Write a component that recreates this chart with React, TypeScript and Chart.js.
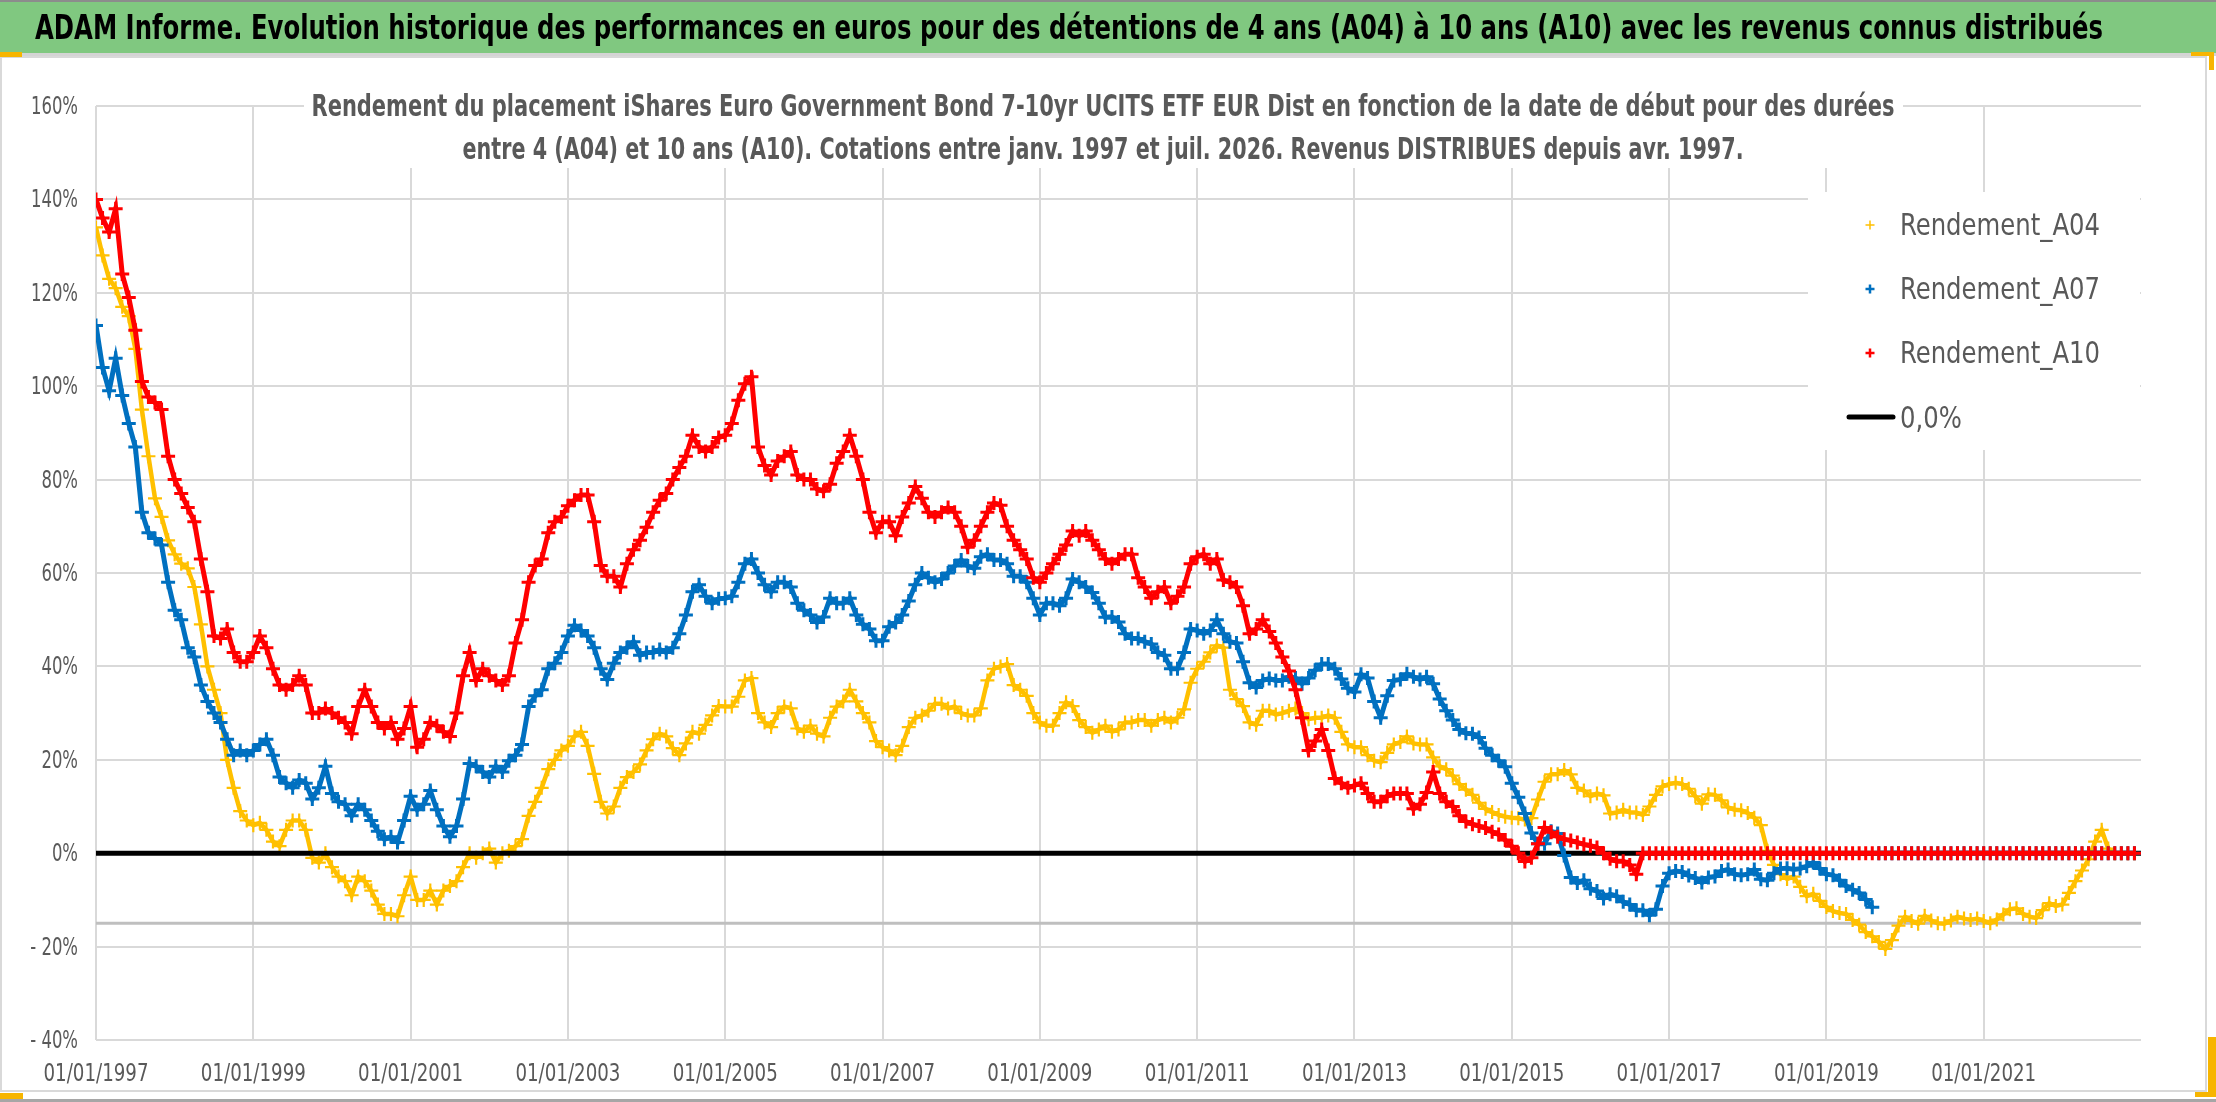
import React, { useEffect, useRef } from 'react';
import { Chart, registerables } from 'chart.js';

Chart.register(...registerables);

const HEADER = 'ADAM Informe. Evolution historique des performances en euros pour des détentions de 4 ans (A04) à 10 ans (A10) avec les revenus connus distribués';
const TITLE_LINES = [
  'Rendement du placement iShares Euro Government Bond 7-10yr UCITS ETF EUR Dist en fonction de la date de début pour des durées',
  'entre 4 (A04) et 10 ans (A10). Cotations entre janv. 1997 et juil. 2026. Revenus DISTRIBUES depuis avr. 1997.',
];

// monthly values, first point = janv. 1997
const START_YEAR = 1997;
const END_YEAR = 2023;
const YEAR_TICKS = [1997, 1999, 2001, 2003, 2005, 2007, 2009, 2011, 2013, 2015, 2017, 2019, 2021];
const PCT_TICKS = [-40, -20, 0, 20, 40, 60, 80, 100, 120, 140, 160];

const RENDEMENT_A04 = [
  134, 128, 123, 121, 117, 115, 108, 95, 85, 76, 72, 67,
  64, 62, 61, 57, 49, 40, 35, 30, 20, 14, 9, 7,
  6, 6.5, 5, 2.5, 1.5, 5, 7, 7, 5, -1, -2, 0,
  -3, -5, -6, -9, -5, -6, -8, -11, -13, -13, -13.5, -9,
  -5, -10, -10, -8, -11, -8, -7, -6, -3, 0, -1, 0,
  1, -2, 0, 0.5, 1.5, 3, 8, 11, 14, 18, 20, 22,
  23, 25, 26, 23, 17, 11, 8.5, 10, 14, 16.3, 17.4, 19,
  22, 24.4, 25.6, 25, 22.5, 21, 23.5, 26, 25.6, 27.5, 29.5, 31.5,
  31.4, 31.4, 33.5, 37, 37.5, 30, 28, 27, 30, 31.4, 31, 26.7,
  26, 27.3, 25.6, 25, 29, 31.4, 32.5, 35, 32.5, 30, 28, 24,
  22.7, 22, 21, 23, 27, 29, 29.5, 30.5, 32, 32, 31, 31.4,
  30, 29.5, 29.5, 31, 37, 39.5, 40, 40.5, 36, 35, 33.7, 30,
  28, 27.3, 27.3, 30, 32.3, 31.5, 28.5, 27, 25.8, 26.5, 27.3, 26,
  26.5, 28, 28, 28.5, 28.5, 27.3, 28.5, 29, 28, 29, 30.8, 36.5,
  39.5, 41, 43, 44.5, 44, 35, 33, 31.5, 28, 27.5, 30.5, 30.5,
  29.7, 30, 30.5, 31, 30, 28.7, 29, 29, 29.5, 29, 26, 23.3,
  22.7, 22.7, 21, 19.8, 19.5, 21.5, 23.3, 23.8, 25, 23.5, 23.3, 23.3,
  20.5, 18.6, 18, 16.6, 14.8, 13.6, 12.5, 10.8, 9.5, 8.8, 8.2, 7.8,
  7.6, 7.5, 7.2, 7.5, 11.5, 15.3, 16.9, 16.9, 17.8, 16.9, 14, 13.4,
  12.2, 12.8, 12.4, 8.5, 8.7, 9.3, 8.7, 8.7, 8.2, 10, 12.5, 14.3,
  14.8, 15.1, 14.8, 13.8, 12.2, 10.6, 12.6, 12.5, 11.3, 9.8, 9.3, 9.2,
  8.6, 7.6, 6, 0.5, -2.5, -4.5, -5.5, -5, -7.2, -9.2, -8.7, -10.2,
  -11.5, -12.4, -12.8, -13, -14.3, -15.3, -16.9, -17.8, -19, -20.5, -18.6, -15.5,
  -13.6, -14.5, -15.1, -13.4, -14.4, -15, -15.1, -14.4, -13.6, -14, -14.3, -14,
  -14.5, -15, -14.2, -13.1, -12, -11.8, -13, -13.6, -13.9, -12.2, -10.7, -11.3,
  -11, -8.5, -6, -3.7, -1.3, 2.5, 5, 1, 0, 0, 0, 0,
];

const RENDEMENT_A07 = [
  113, 104, 99, 106, 98, 92, 87, 73, 68.6, 67.4, 66, 58,
  52, 50, 44, 42, 36, 32.5, 30, 28, 24.4, 21, 22, 21,
  22, 23.3, 24.4, 21, 16.3, 15, 14, 15.7, 15, 11.6, 14, 18.6,
  12.8, 11, 10.5, 8, 10.5, 9.3, 7, 4.7, 3, 3.5, 2.3, 7,
  12.2, 9.3, 10.5, 13.4, 9.3, 5.8, 3.5, 5.8, 11.6, 19.2, 18.6, 17.4,
  16.3, 18.6, 17.4, 19.8, 21, 23.3, 31.4, 33.7, 35, 39.5, 40.7, 43,
  46.5, 48.8, 47.7, 46.5, 44, 39.5, 37.2, 40.7, 43, 44, 45.3, 42.4,
  43, 43, 43.6, 43, 44, 47, 51, 56, 57.5, 55, 53.5, 54.5,
  54.6, 55, 58, 62, 63, 60, 57.5, 56, 58, 58, 57, 53.5,
  52, 51, 49.4, 50.6, 54.6, 53.5, 53.5, 54.6, 51, 49, 48, 45.5,
  45.5, 48.5, 49.4, 51, 54, 57.5, 60, 59, 58, 58.7, 60, 61.5,
  62.8, 61.5, 61, 63.5, 64, 62.8, 62.8, 62, 59.3, 59.3, 58, 54.6,
  51, 53.5, 53.5, 53, 54.6, 58.7, 58, 57, 55.8, 53.5, 50.5, 50.6,
  49.5, 47, 46, 46, 45.3, 44.8, 43, 42.4, 39.5, 39.5, 43, 48,
  47.7, 47, 47.7, 50, 47, 45.3, 45, 41, 36.5, 35.5, 37, 37.4,
  37, 37, 37.8, 37.5, 36.3, 37.5, 39.2, 40.5, 40.5, 39.5, 37.3, 35.3,
  34.5, 38.3, 37.5, 32.5, 29, 33.7, 37, 37.2, 38.4, 37.8, 37.2, 37.8,
  36.3, 33, 30.5, 28.5, 26.5, 25.7, 25.6, 24.8, 22.5, 21, 19.8, 18.5,
  15, 12, 8.5, 4.3, 2, 2, 4.7, 4.2, -0.5, -5.2, -6.4, -5.8,
  -7.6, -8.1, -9.7, -8.8, -9.2, -10.4, -11, -12.2, -12.2, -13.3, -12, -7,
  -4.3, -3.8, -4, -4.8, -5.3, -6.3, -5.2, -5, -3.8, -3.5, -4.5, -4.7,
  -4.5, -3.5, -5.6, -5.8, -4.3, -3.3, -3.2, -3.5, -3.3, -2.8, -2, -3.3,
  -4.5, -4.7, -5.8, -7, -7.8, -8.5, -9.9, -11.6, 0, 0, 0, 0,
  0, 0, 0, 0, 0, 0, 0, 0, 0, 0, 0, 0,
  0, 0, 0, 0, 0, 0, 0, 0, 0, 0, 0, 0,
  0, 0, 0, 0, 0, 0, 0, 0, 0, 0, 0, 0,
];

const RENDEMENT_A10 = [
  140, 136, 133, 138, 124, 119, 112, 101, 97.7, 96.5, 95, 85,
  80, 77, 74, 71, 63, 56, 46.5, 46, 48, 43, 41, 41,
  43, 46.5, 44, 39.5, 36, 35, 36, 38, 36, 30, 30, 31,
  30, 29, 28, 25.6, 31.4, 35, 31.4, 28, 26.7, 28, 24.4, 26.7,
  31.4, 22.7, 24.4, 28, 27.3, 26, 25, 30, 38, 43, 37, 39.5,
  38, 37, 36, 38, 45, 50, 58, 61.6, 63, 68.6, 71, 72,
  74.4, 75.6, 76.7, 76.7, 71, 61.6, 59.3, 59.3, 57, 62, 65, 67,
  69.8, 73, 75.6, 77, 80, 82.6, 85, 89.5, 87, 86, 87, 89,
  89.5, 92, 97, 100.5, 102, 87, 83, 81, 84, 85, 86, 81,
  80, 80, 78, 77.5, 79, 83.5, 86, 89.5, 85, 80, 73, 68.6,
  71, 71, 68, 72, 75, 78.5, 76, 73, 72, 73, 74, 73,
  70, 65.5, 67, 70, 73, 75, 74.5, 70, 67, 65, 63, 59,
  58, 60, 62, 64, 66, 69, 68, 69, 67, 65, 63, 62,
  63, 64, 64, 59, 57, 54.6, 56, 57, 53.5, 55, 57, 62,
  63.5, 64, 62, 63, 58.5, 58, 57, 53, 47, 48, 50, 47.5,
  45, 42, 39, 35, 29, 22, 24, 26.5, 22, 16, 15, 14,
  14.5, 15, 12.8, 11, 11, 12.2, 12.8, 12.8, 12.8, 9.5, 10.5, 13,
  17.4, 12.8, 11, 10, 8, 6.8, 6.2, 5.8, 5.4, 4.6, 4, 2.8,
  1.5, 0, -1.8, -1, 2, 5.5, 4.5, 3.5, 3, 2.7, 2.3, 1.9,
  1.6, 1.2, 0, -1.2, -1.7, -1.7, -2.5, -4.5, 0, 0, 0, 0,
  0, 0, 0, 0, 0, 0, 0, 0, 0, 0, 0, 0,
  0, 0, 0, 0, 0, 0, 0, 0, 0, 0, 0, 0,
  0, 0, 0, 0, 0, 0, 0, 0, 0, 0, 0, 0,
  0, 0, 0, 0, 0, 0, 0, 0, 0, 0, 0, 0,
  0, 0, 0, 0, 0, 0, 0, 0, 0, 0, 0, 0,
  0, 0, 0, 0, 0, 0, 0, 0, 0, 0, 0, 0,
];

// horizontal reference lines
const LINE_X = [START_YEAR, END_YEAR];
const ZERO_LINE = [0, 0];
const LOW_LINE = [-15, -15];

const FONT = '"Liberation Sans Narrow", "DejaVu Sans Condensed", "Liberation Sans", sans-serif';
const GREY_TEXT = '#595959';
const GRID = '#d9d9d9';

const SERIES = [
  { label: 'Rendement_A04', values: RENDEMENT_A04, color: '#ffc000', width: 2.2, line: 4.5, order: 4 },
  { label: 'Rendement_A07', values: RENDEMENT_A07, color: '#0070c0', width: 3, line: 5, order: 2 },
  { label: 'Rendement_A10', values: RENDEMENT_A10, color: '#ff0000', width: 3, line: 5, order: 1 },
];

function monthPoints(values: number[]) {
  return values.map((y, i) => ({ x: START_YEAR + i / 12, y }));
}

function linePoints(ys: number[]) {
  return LINE_X.map((x, i) => ({ x, y: ys[i] }));
}

function pctLabel(v: number) {
  return v < 0 ? '- ' + Math.abs(v) + '%' : v + '%';
}

// draw text with a horizontal scale (Calibri look-alike)
function drawText(ctx: CanvasRenderingContext2D, text: string, x: number, y: number, sx: number, align: CanvasTextAlign, font: string, color: string) {
  ctx.save();
  ctx.font = font;
  ctx.fillStyle = color;
  ctx.textBaseline = 'alphabetic';
  ctx.textAlign = align;
  ctx.translate(x, y);
  ctx.scale(sx, 1);
  ctx.fillText(text, 0, 0);
  ctx.restore();
}

function squeeze(ctx: CanvasRenderingContext2D, text: string, font: string, width: number) {
  ctx.save();
  ctx.font = font;
  const w = ctx.measureText(text).width;
  ctx.restore();
  return width / w;
}

function drawCross(ctx: CanvasRenderingContext2D, x: number, y: number, r: number, color: string, lw: number) {
  ctx.save();
  ctx.strokeStyle = color;
  ctx.lineWidth = lw;
  ctx.beginPath();
  ctx.moveTo(x - r, y);
  ctx.lineTo(x + r, y);
  ctx.moveTo(x, y - r);
  ctx.lineTo(x, y + r);
  ctx.stroke();
  ctx.restore();
}

const framePlugin = {
  id: 'frame',
  beforeDraw(chart: Chart) {
    const { ctx, width, height } = chart;
    ctx.save();
    ctx.fillStyle = '#ffffff';
    ctx.fillRect(0, 0, width, height);

    // green header band
    ctx.fillStyle = '#80c880';
    ctx.fillRect(0, 0, width, 53);
    ctx.fillStyle = '#8c8c8c';
    ctx.fillRect(0, 0, width, 2);
    ctx.fillStyle = '#d4d4d4';
    ctx.fillRect(0, 53, width, 3);

    // chart object border
    ctx.strokeStyle = GRID;
    ctx.lineWidth = 2;
    ctx.strokeRect(1, 57, 2205, 1034);
    ctx.fillStyle = '#a6a6a6';
    ctx.fillRect(0, 1099, width, 3);

    // selection handles
    ctx.fillStyle = '#f7b500';
    ctx.fillRect(0, 52, 22, 5);
    ctx.fillRect(2191, 52, 23, 4);
    ctx.fillRect(2209, 52, 5, 18);
    ctx.fillRect(2208, 1037, 8, 60);
    ctx.fillRect(2195, 1092, 21, 5);
    ctx.fillRect(0, 1093, 23, 6);
    ctx.restore();

    const hf = 'bold 34px ' + FONT;
    drawText(ctx, HEADER, 35, 39, squeeze(ctx, HEADER, hf, 2068), 'left', hf, '#000000');
  },
  beforeDatasetsDraw(chart: Chart) {
    const { ctx } = chart;
    const xs = chart.scales.x;
    const ys = chart.scales.y;

    // axis labels
    const tf = '25px ' + FONT;
    const kx = squeeze(ctx, '01/01/1997', tf, 105);
    YEAR_TICKS.forEach(yr => {
      drawText(ctx, '01/01/' + yr, xs.getPixelForValue(yr), 1081, kx, 'center', tf, GREY_TEXT);
    });
    const ky = squeeze(ctx, '160%', tf, 47);
    PCT_TICKS.forEach(v => {
      drawText(ctx, pctLabel(v), 78, ys.getPixelForValue(v) + 8, ky, 'right', tf, GREY_TEXT);
    });

    // chart title, white box over the grid
    ctx.save();
    ctx.fillStyle = '#ffffff';
    ctx.fillRect(304, 80, 1599, 88);
    ctx.restore();
    const titleFont = 'bold 31px ' + FONT;
    drawText(ctx, TITLE_LINES[0], 1103, 116, squeeze(ctx, TITLE_LINES[0], titleFont, 1583), 'center', titleFont, GREY_TEXT);
    drawText(ctx, TITLE_LINES[1], 1103, 159, squeeze(ctx, TITLE_LINES[1], titleFont, 1281), 'center', titleFont, GREY_TEXT);

    // legend
    ctx.save();
    ctx.fillStyle = '#ffffff';
    ctx.fillRect(1808, 192, 332, 258);
    ctx.restore();
    const lf = '31px ' + FONT;
    const kl = squeeze(ctx, 'Rendement_A04', lf, 200);
    const rows = [235, 299, 363];
    SERIES.forEach((s, i) => {
      drawCross(ctx, 1870, rows[i] - 10, 4.5, s.color, i === 0 ? 1.5 : 2.5);
      drawText(ctx, s.label, 1900, rows[i], kl, 'left', lf, GREY_TEXT);
    });
    ctx.save();
    ctx.strokeStyle = '#000000';
    ctx.lineWidth = 5;
    ctx.lineCap = 'round';
    ctx.beginPath();
    ctx.moveTo(1849, 417);
    ctx.lineTo(1893, 417);
    ctx.stroke();
    ctx.restore();
    drawText(ctx, '0,0%', 1900, 428, kl, 'left', lf, GREY_TEXT);
  },
};

export default function App() {
  const canvasRef = useRef<HTMLCanvasElement>(null);

  useEffect(() => {
    document.body.style.margin = '0';
    document.body.style.overflow = 'hidden';
    if (!canvasRef.current) return;

    const datasets: any[] = SERIES.map(s => ({
      label: s.label,
      data: monthPoints(s.values),
      pointStyle: 'cross',
      pointRadius: 7,
      pointBorderWidth: s.width,
      pointBorderColor: s.color,
      borderColor: s.color,
      backgroundColor: s.color,
      // the daily quotes form a dense band of crosses: join monthly points with a thick stroke
      showLine: true,
      borderWidth: s.line,
      segment: {
        // no stroke where a duration has no complete history yet (value drops to 0)
        borderColor: (c: any) => (c.p1.parsed.y === 0 && Math.abs(c.p0.parsed.y) > 5 ? 'transparent' : s.color),
      },
      order: s.order,
    }));
    datasets.push({
      label: '0,0%',
      data: linePoints(ZERO_LINE),
      showLine: true,
      borderColor: '#000000',
      borderWidth: 5,
      pointRadius: 0,
      order: 3,
    });
    datasets.push({
      label: 'seuil',
      data: linePoints(LOW_LINE),
      showLine: true,
      borderColor: '#bfbfbf',
      borderWidth: 3,
      pointRadius: 0,
      order: 5,
    });

    const chart = new Chart(canvasRef.current, {
      type: 'scatter',
      data: { datasets },
      plugins: [framePlugin],
      options: {
        responsive: false,
        animation: false,
        devicePixelRatio: 1,
        events: [],
        layout: { padding: { left: 0, right: 75, top: 106, bottom: 7 } },
        plugins: {
          legend: { display: false },
          tooltip: { enabled: false },
          title: { display: false },
        },
        scales: {
          x: {
            type: 'linear',
            min: START_YEAR,
            max: END_YEAR,
            afterBuildTicks: (scale: any) => {
              scale.ticks = YEAR_TICKS.map(v => ({ value: v }));
            },
            afterFit: (scale: any) => {
              scale.height = 55;
            },
            grid: { color: GRID, lineWidth: 2, drawTicks: false },
            border: { display: false },
            ticks: { display: false },
          },
          y: {
            min: -40,
            max: 160,
            afterBuildTicks: (scale: any) => {
              scale.ticks = PCT_TICKS.map(v => ({ value: v }));
            },
            afterFit: (scale: any) => {
              scale.width = 96;
            },
            grid: { color: GRID, lineWidth: 2, drawTicks: false },
            border: { display: false },
            ticks: { display: false },
          },
        },
      },
    });

    return () => {
      chart.destroy();
    };
  }, []);

  return (
    <div style={{ width: 2216, height: 1102 }}>
      <canvas ref={canvasRef} width={2216} height={1102} style={{ display: 'block' }} />
    </div>
  );
}
